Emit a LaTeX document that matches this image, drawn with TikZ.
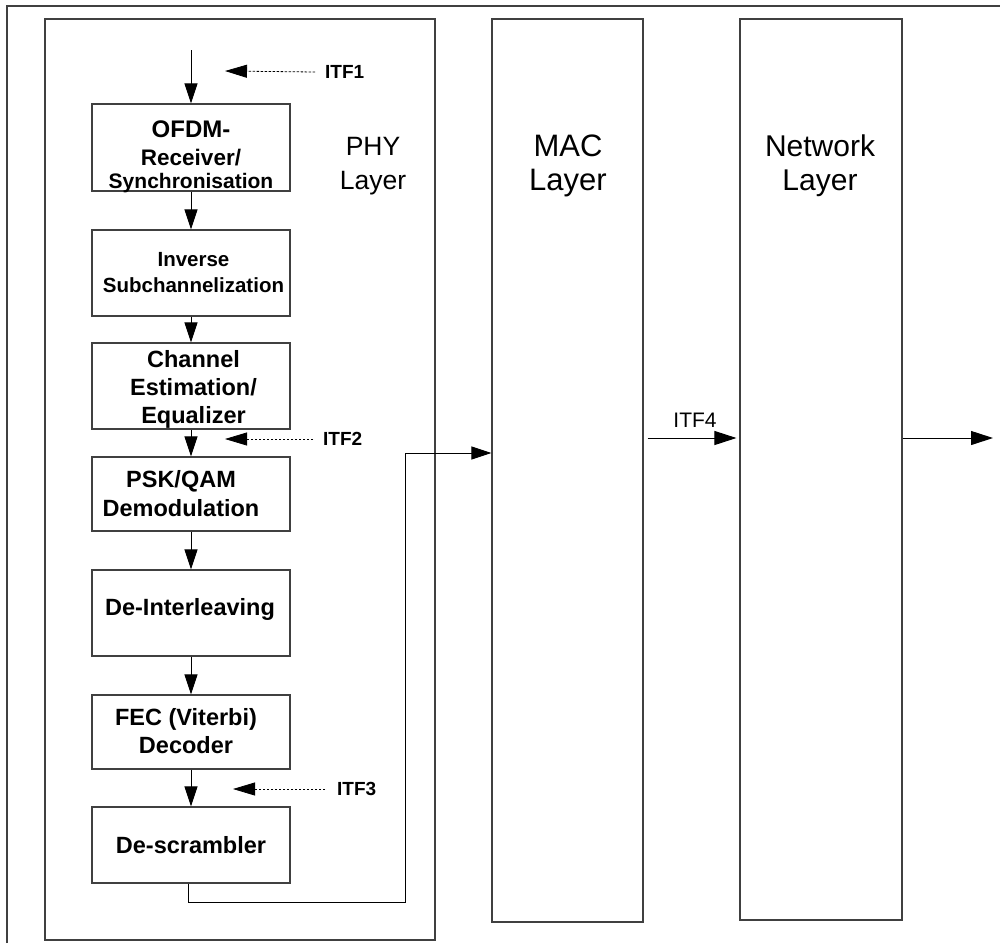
\documentclass[tikz,border=0pt]{standalone}
\usepackage{fontspec}
\setmainfont{Liberation Sans}
\usetikzlibrary{arrows.meta}
\begin{document}
\begin{tikzpicture}[x=1pt,y=-1pt,
  framepen/.style={draw=black!75, line width=1.1pt},
  layerbox/.style={framepen, rectangle, inner sep=0pt},
  blockbox/.style={framepen, rectangle, minimum width=198pt, inner sep=0pt},
  blocktext/.style={anchor=north, inner sep=0pt, align=center},
  lineword/.style={anchor=base, inner sep=0pt},
  layertitle/.style={anchor=north, inner sep=0pt, align=center},
  flow/.style={draw=black, line width=1pt, -{Triangle[length=20pt,width=13pt]}},
  wideflow/.style={draw=black, line width=1pt, -{Triangle[length=22pt,width=14pt]}},
  itfarrow/.style={draw=black, line width=0.8pt, dash pattern=on 2.5pt off 1.5pt,
                   -{Triangle[length=22pt,width=13pt]}},
  itflabel/.style={anchor=west, inner sep=0pt, font=\fontsize{19}{22}\selectfont\bfseries}
]
\useasboundingbox (0,0) rectangle (1000,943);

% outer frame (top and left edges)
\draw[framepen] (7,943) -- (7,6) -- (1000,6);

% layer columns
\node[layerbox, minimum width=390pt, minimum height=921pt] (phy) at (240,479.5) {};
\node[layerbox, minimum width=151pt, minimum height=903pt] (mac) at (567.5,470.5) {};
\node[layerbox, minimum width=162pt, minimum height=901pt] (net) at (821,469.5) {};

\node[layertitle, font=\fontsize{26.5}{34}\selectfont] (phytitle) at (373,137) {PHY\\Layer};
\node[layertitle, font=\fontsize{31}{34}\selectfont] (mactitle) at (568,135) {MAC\\Layer};
\node[layertitle, font=\fontsize{30}{34}\selectfont] (nettitle) at (820,135) {Network\\Layer};

% receiver chain blocks
\node[blockbox, minimum height=87pt] (ofdm)  at (191,147.5) {};
\node[blockbox, minimum height=86pt] (inv)   at (191,273)   {};
\node[blockbox, minimum height=86pt] (chan)  at (191,386)   {};
\node[blockbox, minimum height=74pt] (psk)   at (191,494)   {};
\node[blockbox, minimum height=86pt] (deint) at (191,613)   {};
\node[blockbox, minimum height=74pt] (fec)   at (191,732)   {};
\node[blockbox, minimum height=76pt] (descr) at (191,845)   {};

% the first block's three lines are set one by one
\node[lineword, font=\fontsize{24}{28}\selectfont\bfseries] (ofdmtxtA) at (191,137) {OFDM-};
\node[lineword, font=\fontsize{22.5}{28}\selectfont\bfseries] (ofdmtxtB) at (191,165) {Receiver/};
\node[lineword, font=\fontsize{21}{28}\selectfont\bfseries] (ofdmtxtC) at (191,188) {Synchronisation};

\node[blocktext, font=\fontsize{20.5}{26}\selectfont\bfseries] (invtxt) at (193.5,252)
  {Inverse\\Subchannelization};
\node[blocktext, font=\fontsize{23.5}{28}\selectfont\bfseries] (chantxt) at (193.5,350)
  {Channel\\Estimation/\\Equalizer};
\node[blocktext, font=\fontsize{23.5}{29}\selectfont\bfseries] (psktxt) at (181,470)
  {PSK/QAM\\Demodulation};
\node[blocktext, font=\fontsize{23.5}{28}\selectfont\bfseries] (deinttxt) at (190,598)
  {De-Interleaving};
\node[blocktext, font=\fontsize{23.5}{28}\selectfont\bfseries] (fectxt) at (186,708)
  {FEC (Viterbi)\\Decoder};
\node[blocktext, font=\fontsize{23.5}{28}\selectfont\bfseries] (descrtxt) at (191,836)
  {De-scrambler};

% signal flow through the chain
\coordinate (rxin) at (191,50);
\draw[flow] (rxin) -- (ofdm.north);
\draw[flow] (ofdm.south) -- (inv.north);
\draw[flow] (inv.south) -- (chan.north);
\draw[flow] (chan.south) -- (psk.north);
\draw[flow] (psk.south) -- (deint.north);
\draw[flow] (deint.south) -- (fec.north);
\draw[flow] (fec.south) -- (descr.north);

% descrambler output routed to the MAC layer
\coordinate (bendA) at (405,902);
\draw[flow] ([xshift=-3pt]descr.south) |- (bendA) |- ([yshift=17.5pt]mac.west);

% MAC -> Network -> upper layers
\draw[wideflow] ([xshift=4pt,yshift=32.5pt]mac.east) -- ([xshift=-3pt,yshift=31.5pt]net.west);
\coordinate (netout) at (993,438);
\draw[wideflow] ([yshift=31.5pt]net.east) -- (netout);
\node[inner sep=0pt, font=\fontsize{21}{24}\selectfont] (itf4) at (695,420) {ITF4};

% interface observation points
\node[itflabel] (itf1) at (325,72) {ITF1};
\node[itflabel] (itf2) at (323,439) {ITF2};
\node[itflabel] (itf3) at (337,789) {ITF3};
\coordinate (itf1tip) at (225,71);
\coordinate (itf2tip) at (225,439);
\coordinate (itf3tip) at (233,789);
\draw[itfarrow] ([xshift=-10pt]itf1.west) -- (itf1tip);
\draw[itfarrow] ([xshift=-10pt]itf2.west) -- (itf2tip);
\draw[itfarrow] ([xshift=-12pt]itf3.west) -- (itf3tip);
\end{tikzpicture}
\end{document}
